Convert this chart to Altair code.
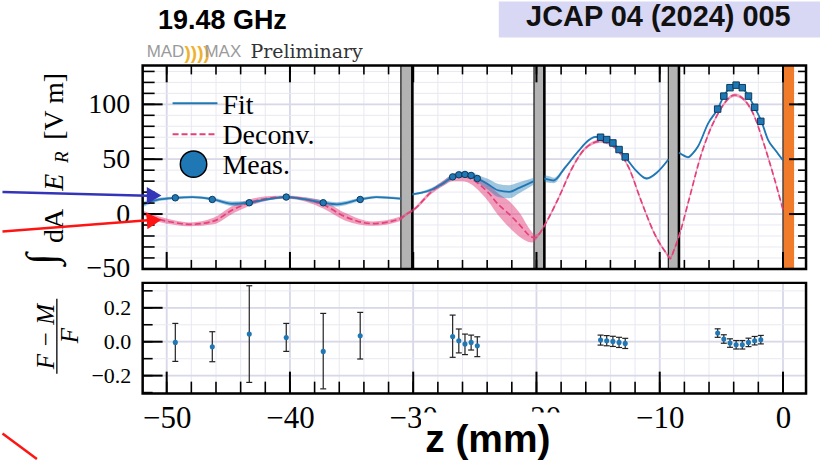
import altair as alt
import pandas as pd

# ------------------------------------------------------------------
# Values
# ------------------------------------------------------------------
# Fit curve (blue), one list per cavity region, with band half-width
fitA_z = [-51.95, -50.6, -49.3, -47.9, -46.2, -44.7, -43.3, -41.9, -40.3, -38.7, -37.3, -36.2, -34.3, -33.0, -31.0]
fitA_v = [8.8, 13.3, 14.8, 15.5, 13.3, 9.4, 10.3, 13.3, 15.5, 13.3, 10.3, 8.8, 13.3, 15.5, 14.0]
fitA_e = [2.5, 1.5, 1.2, 1.2, 1.5, 2.0, 1.5, 1.2, 1.2, 1.5, 2.0, 2.0, 1.5, 1.2, 1.2]

fitB_z = [-30.07, -29.3, -28.5, -27.5, -26.8, -26.0, -25.2, -24.8, -23.9, -23.1, -22.2, -21.4, -20.2]
fitB_v = [17.9, 19.5, 22.4, 28.5, 33.9, 36.3, 35.0, 32.4, 27.0, 21.5, 20.3, 23.9, 30.0]
fitB_e = [1.0, 1.0, 1.5, 2.0, 2.5, 2.5, 3.0, 3.5, 5.0, 6.0, 6.0, 5.0, 3.0]

fitC_z = [-19.36, -18.9, -18.6, -17.7, -16.6, -15.8, -15.2, -14.8, -14.3, -13.8, -13.3, -12.8, -12.0, -11.06, -10.25, -9.3]
fitC_v = [32.4, 31.2, 30.6, 42.1, 57.3, 67.0, 70.3, 70.0, 67.9, 64.8, 58.8, 52.1, 40.6, 32.4, 37.6, 49.7]
fitC_e = [3.0, 3.0, 2.5, 1.5, 1.0, 1.0, 1.0, 1.0, 1.0, 1.0, 1.0, 1.0, 1.0, 1.0, 1.0, 1.0]

fitD_z = [-8.44, -8.0, -7.7, -7.3, -6.9, -6.07, -5.3, -4.8, -4.3, -3.8, -3.3, -2.8, -2.3, -1.75, -1.21, -0.6, 0.0]
fitD_v = [56.0, 53.0, 51.8, 55.5, 61.5, 82.7, 95.7, 107.5, 115.2, 117.8, 115.2, 107.5, 97.3, 84.5, 67.6, 57.9, 49.0]
fitD_e = [1.0] * 17

# Deconvolved curve (pink, dashed), continuous over the whole range
dec_z = [-51.95, -50.6, -49.3, -48.1, -46.2, -44.6, -43.3, -41.9, -40.3, -38.7, -37.3, -35.5, -33.3,
         -31.1, -30.6, -29.9, -28.5, -27.5, -26.8, -26.0, -25.2, -24.8, -23.9, -23.1, -22.2, -21.4,
         -20.4, -20.15, -19.8, -19.3, -18.2, -17.1, -16.0, -14.8, -13.6, -12.5, -11.5, -10.4, -9.4,
         -9.15, -8.85, -8.36, -7.7, -6.6, -5.26, -3.9, -2.56, -1.48, -0.67, 0.0]
dec_v = [1.2, -4.8, -7.9, -9.4, -6.4, 4.2, 10.3, 14.2, 15.5, 13.3, 8.5, -2.5, -8.7,
         -4.5, -0.5, 4.5, 20.5, 28.5, 33.0, 34.0, 31.5, 28.5, 19.4, 8.8, -0.3, -9.4,
         -20.9, -21.8, -18.5, -9.4, 14.8, 42.0, 60.3, 66.4, 60.3, 42.0, 11.8, -18.5, -36.7,
         -40.3, -33.0, -17.3, 10.0, 55.5, 91.8, 108.5, 94.8, 61.5, 31.2, 4.0]
dec_e = [2.0, 2.5, 2.0, 1.8, 3.0, 3.5, 3.0, 2.0, 1.5, 2.0, 3.5, 3.5, 2.0,
         2.0, 1.5, 1.5, 2.0, 2.5, 3.0, 4.0, 5.0, 6.0, 8.0, 10.0, 12.0, 11.0,
         5.0, 3.0, 1.5, 1.5, 1.5, 1.5, 1.5, 1.5, 1.5, 1.5, 1.5, 1.5, 1.5,
         1.5, 1.5, 1.5, 1.5, 1.5, 1.5, 1.5, 1.5, 1.5, 1.5, 1.5]

# Measurements (top panel)
meas_z = [-49.3, -46.3, -43.3, -40.3, -37.3, -34.3,
          -26.8, -26.3, -25.8, -25.3, -24.8,
          -14.8, -14.3, -13.8, -13.3, -12.8,
          -5.3, -4.8, -4.3, -3.8, -3.3, -2.8, -2.3, -1.8]
meas_v = [14.8, 13.3, 10.3, 15.5, 10.3, 13.3,
          33.9, 35.8, 36.1, 35.2, 32.4,
          70.0, 67.9, 64.8, 58.8, 52.1,
          95.7, 107.5, 115.2, 117.5, 115.2, 107.5, 97.3, 84.5]
meas_mk = ["c"] * 11 + ["s"] * 13

# Residuals (F-M)/F with error bar ends (bottom panel)
res_v = [-0.004, -0.03, 0.045, 0.025, -0.057, 0.035,
         0.031, 0.006, -0.014, -0.004, -0.024,
         0.01, 0.006, 0.002, -0.004, -0.01,
         0.051, 0.016, -0.008, -0.018, -0.018, -0.004, 0.006, 0.012]
res_hi = [0.108, 0.059, 0.33, 0.108, 0.167, 0.173,
          0.157, 0.075, 0.045, 0.039, 0.029,
          0.039, 0.036, 0.032, 0.026, 0.02,
          0.076, 0.041, 0.017, 0.007, 0.007, 0.021, 0.031, 0.037]
res_lo = [-0.116, -0.118, -0.24, -0.057, -0.278, -0.102,
          -0.092, -0.066, -0.076, -0.049, -0.088,
          -0.02, -0.024, -0.028, -0.034, -0.04,
          0.026, -0.009, -0.033, -0.043, -0.043, -0.029, -0.019, -0.013]

# Disks (grey) and mirror (orange)
disk_lo = [-31.0, -20.2, -9.3]
disk_hi = [-30.07, -19.36, -8.44]
mirror_lo = [0.0]
mirror_hi = [0.9]

# Tick / grid values
x_minor = list(range(-50, 1, 2))
x_major = [-50, -40, -30, -20, -10, 0]
y1_minor = list(range(-50, 131, 10))
y1_major = [-50, 0, 50, 100]
y2_minor = [-0.3, -0.2, -0.1, 0.0, 0.1, 0.2, 0.3]
y2_major = [-0.2, 0.0, 0.2]

# ------------------------------------------------------------------
W, H1, H2 = 665, 204, 111
XDOM = [-51.95, 1.87]
BLUE = "#1f77b4"
PINK = "#e4407a"
SERIF = "Liberation Serif"
SANS = "Liberation Sans"
GMIN = "#e8e8f2"
GMAJ = "#d8d8e8"

xs = alt.Scale(domain=XDOM, nice=False, zero=False)
ys1 = alt.Scale(domain=[-50, 135.5], nice=False, zero=False)
ys2 = alt.Scale(domain=[-0.306, 0.347], nice=False, zero=False)

ax_y1 = alt.Axis(values=y1_major, title=None, ticks=False, tickSize=0, domain=False, grid=False,
                 labelFont=SERIF, labelFontSize=28, labelColor="black", labelPadding=13)
ax_y2 = alt.Axis(values=y2_major, format=".1f", title=None, ticks=False, tickSize=0, domain=False,
                 grid=False, labelFont=SERIF, labelFontSize=22, labelColor="black", labelPadding=12)
ax_x2 = alt.Axis(values=x_major, title=None, ticks=False, tickSize=0, domain=False, grid=False,
                 labelFont=SERIF, labelFontSize=31, labelColor="black", labelPadding=10,
                 labelFlush=False, labelOverlap=False)


def X1(f="z"):
    return alt.X(f + ":Q", scale=xs, axis=None)


def Y1(f="v"):
    return alt.Y(f + ":Q", scale=ys1, axis=ax_y1)


def X2(f="z"):
    return alt.X(f + ":Q", scale=xs, axis=ax_x2)


def Y2(f="v"):
    return alt.Y(f + ":Q", scale=ys2, axis=ax_y2)


def band_df(name, z, v, e):
    return pd.DataFrame({"z": z, "v": v,
                         "lo": [a - b for a, b in zip(v, e)],
                         "hi": [a + b for a, b in zip(v, e)],
                         "seg": name})


fit_df = pd.concat([band_df("A", fitA_z, fitA_v, fitA_e),
                    band_df("B", fitB_z, fitB_v, fitB_e),
                    band_df("C", fitC_z, fitC_v, fitC_e),
                    band_df("D", fitD_z, fitD_v, fitD_e)], ignore_index=True)
dec_df = band_df("P", dec_z, dec_v, dec_e)
meas_df = pd.DataFrame({"z": meas_z, "v": meas_v, "mk": meas_mk})
res_df = pd.DataFrame({"z": meas_z, "v": res_v, "lo": res_lo, "hi": res_hi})
disk_df = pd.DataFrame({"lo": disk_lo, "hi": disk_hi})
mir_df = pd.DataFrame({"lo": mirror_lo, "hi": mirror_hi})
ONE = pd.DataFrame({"k": [0]})


def vals(lst):
    return pd.DataFrame({"p": lst})


def txt(text, x, y, size, font=SERIF, weight="normal", style="normal", align="left",
        baseline="alphabetic", angle=0, color="black"):
    return alt.Chart(ONE).mark_text(text=text, font=font, fontSize=size, fontWeight=weight,
                                    fontStyle=style, align=align, baseline=baseline,
                                    angle=angle, color=color).encode(x=alt.value(x), y=alt.value(y))


def seg(x1, y1, x2, y2, color, width, dash=None):
    kw = dict(color=color, strokeWidth=width)
    if dash:
        kw["strokeDash"] = dash
    return alt.Chart(ONE).mark_rule(**kw).encode(
        x=alt.value(x1), y=alt.value(y1), x2=alt.value(x2), y2=alt.value(y2))


def vticks(lst, Xf, y0, y1, w):
    return alt.Chart(vals(lst)).mark_rule(color="black", strokeWidth=w).encode(
        x=Xf("p"), y=alt.value(y0), y2=alt.value(y1))


def hticks(lst, Yf, x0, x1, w):
    return alt.Chart(vals(lst)).mark_rule(color="black", strokeWidth=w).encode(
        y=Yf("p"), x=alt.value(x0), x2=alt.value(x1))


# ------------------------------------------------------------------
# Top panel
# ------------------------------------------------------------------
top_layers = [
    # invisible page frame (fixes the overall picture bounds: 821 x 460)
    alt.Chart(ONE).mark_rect(color="white", opacity=0).encode(
        x=alt.value(-142), x2=alt.value(679), y=alt.value(-64), y2=alt.value(396)),
    alt.Chart(vals(x_minor)).mark_rule(color=GMIN, strokeWidth=1).encode(x=X1("p")),
    alt.Chart(vals(x_major)).mark_rule(color=GMAJ, strokeWidth=1.8).encode(x=X1("p")),
    alt.Chart(vals(y1_minor)).mark_rule(color=GMIN, strokeWidth=1).encode(y=Y1("p")),
    alt.Chart(vals(y1_major)).mark_rule(color=GMAJ, strokeWidth=1.8).encode(y=Y1("p")),
    alt.Chart(disk_df).mark_rect(color="#b3b3b3").encode(
        x=X1("lo"), x2="hi:Q", y=alt.value(0), y2=alt.value(H1)),
    alt.Chart(mir_df).mark_rect(color="#ef7b2b").encode(
        x=X1("lo"), x2="hi:Q", y=alt.value(0), y2=alt.value(H1)),
    alt.Chart(disk_df).mark_rule(color="#222222", strokeWidth=1.3).encode(x=X1("lo")),
    alt.Chart(disk_df).mark_rule(color="black", strokeWidth=2.6).encode(x=X1("hi")),
    alt.Chart(mir_df).mark_rule(color="#333333", strokeWidth=1.2).encode(x=X1("lo")),
    alt.Chart(dec_df).mark_area(color=PINK, opacity=0.5, interpolate="monotone").encode(
        x=X1(), y=Y1("lo"), y2="hi:Q"),
    alt.Chart(fit_df).mark_area(color=BLUE, opacity=0.42, interpolate="monotone").encode(
        x=X1(), y=Y1("lo"), y2="hi:Q", detail="seg:N"),
    alt.Chart(dec_df).mark_line(color=PINK, strokeWidth=1.7, strokeDash=[6, 3],
                                interpolate="monotone").encode(x=X1(), y=Y1()),
    alt.Chart(fit_df).mark_line(color=BLUE, strokeWidth=1.8, interpolate="monotone").encode(
        x=X1(), y=Y1(), detail="seg:N"),
    alt.Chart(meas_df).mark_point(filled=True, size=42, color=BLUE, stroke="#0b3a5e",
                                  strokeWidth=1, opacity=1).encode(
        x=X1(), y=Y1(),
        shape=alt.Shape("mk:N", scale=alt.Scale(domain=["c", "s"], range=["circle", "square"]),
                        legend=None)),
    # ticks
    vticks(x_minor, X1, 0, 9, 1.6),
    vticks(x_major, X1, 0, 17, 2),
    vticks(x_minor, X1, H1 - 9, H1, 1.6),
    vticks(x_major, X1, H1 - 17, H1, 2),
    hticks(y1_minor, Y1, 0, 12, 1.6),
    hticks(y1_major, Y1, 0, 20, 2),
    hticks(y1_minor, Y1, W - 8, W, 1.6),
    hticks(y1_major, Y1, W - 17, W, 2),
    # frame
    alt.Chart(ONE).mark_rect(fill="transparent", stroke="black", strokeWidth=2.5).encode(
        x=alt.value(0), x2=alt.value(W), y=alt.value(0), y2=alt.value(H1)),
    # legend
    seg(30, 38, 75, 38, BLUE, 2),
    txt("Fit", 80, 49, 28),
    seg(30, 69, 75, 69, PINK, 2, dash=[6, 3]),
    txt("Deconv.", 80, 79, 28),
    alt.Chart(ONE).mark_point(filled=True, shape="circle", size=700, color=BLUE, stroke="black",
                              strokeWidth=1.5, opacity=1).encode(x=alt.value(51), y=alt.value(99)),
    txt("Meas.", 80, 109, 28),
    # y title (rotated)
    txt("\u222b", -88, 194, 42, align="center", angle=270),
    txt("dA", -80, 161, 28, align="center", angle=270),
    txt("E", -80, 117, 28, style="italic", align="center", angle=270),
    txt("R", -75, 92, 19, style="italic", align="center", angle=270),
    txt("[V m]", -80, 41, 28, align="center", angle=270),
    # header annotations
    txt("19.48 GHz", 80, -36, 27, font=SANS, weight="bold", align="center"),
    alt.Chart(ONE).mark_rect(color="#d8d8f4").encode(
        x=alt.value(357), x2=alt.value(679), y=alt.value(-64), y2=alt.value(-28)),
    txt("JCAP 04 (2024) 005", 517, -40, 29, font=SANS, weight="bold", align="center", color="#111111"),
    txt("MAD", 4, -8, 17, font=SANS, color="#9a9a9a"),
    txt("))))", 42, -6, 19, font=SANS, weight="bold", color="#f0b030"),
    txt("MAX", 62, -8, 17, font=SANS, color="#9a9a9a"),
    txt("Preliminary", 108, -7, 19, font="DejaVu Serif", color="#333333"),
    # arrows on the left
    seg(-140.5, 127, 5, 130.7, "#3434b8", 2.5),
    alt.Chart(ONE).mark_point(filled=True, shape="triangle-right", size=289, color="#3434b8",
                              opacity=1).encode(x=alt.value(11.5), y=alt.value(130.5)),
    seg(-140.5, 166.6, 5, 155.3, "#ff1414", 2.5),
    alt.Chart(ONE).mark_point(filled=True, shape="triangle-right", size=289, color="#ff1414",
                              opacity=1, angle=355.6).encode(x=alt.value(11.5), y=alt.value(155.3)),
]
top = alt.layer(*top_layers).properties(width=W, height=H1)

# ------------------------------------------------------------------
# Bottom panel (residuals)
# ------------------------------------------------------------------
bot_layers = [
    alt.Chart(vals(x_minor)).mark_rule(color=GMIN, strokeWidth=1).encode(x=X2("p")),
    alt.Chart(vals(x_major)).mark_rule(color=GMAJ, strokeWidth=1.8).encode(x=X2("p")),
    alt.Chart(vals(y2_minor)).mark_rule(color=GMIN, strokeWidth=1).encode(y=Y2("p")),
    alt.Chart(vals(y2_major)).mark_rule(color=GMAJ, strokeWidth=1.8).encode(y=Y2("p")),
    alt.Chart(res_df).mark_rule(color="#222222", strokeWidth=1.2).encode(x=X2(), y=Y2("lo"), y2="hi:Q"),
    alt.Chart(res_df).mark_tick(orient="horizontal", size=6, thickness=1.2, color="#222222",
                                opacity=1).encode(x=X2(), y=Y2("hi")),
    alt.Chart(res_df).mark_tick(orient="horizontal", size=6, thickness=1.2, color="#222222",
                                opacity=1).encode(x=X2(), y=Y2("lo")),
    alt.Chart(res_df).mark_circle(size=26, color=BLUE, opacity=1).encode(x=X2(), y=Y2()),
    vticks(x_minor, X2, H2 - 12, H2, 1.6),
    vticks(x_major, X2, H2 - 22, H2, 2),
    hticks(y2_minor, Y2, 0, 10, 1.6),
    hticks(y2_major, Y2, 0, 20, 2),
    alt.Chart(ONE).mark_rect(fill="transparent", stroke="black", strokeWidth=2.5).encode(
        x=alt.value(0), x2=alt.value(W), y=alt.value(0), y2=alt.value(H2)),
    # y title as a fraction
    txt("F \u2212 M", -89, 54, 25, style="italic", align="center", angle=270),
    seg(-86, 16, -86, 91, "black", 1.3),
    txt("F", -65, 53, 25, style="italic", align="center", angle=270),
    # big x label on white patch
    alt.Chart(ONE).mark_rect(color="white").encode(
        x=alt.value(279), x2=alt.value(423), y=alt.value(130), y2=alt.value(178)),
    txt("z (mm)", 346, 170, 39, font=SANS, weight="bold", align="center"),
    seg(-140.5, 151, -106, 176.5, "#ff1414", 2.5),
]
bottom = alt.layer(*bot_layers).properties(width=W, height=H2)

chart = alt.vconcat(top, bottom, spacing=14, bounds="flush").properties(
    padding=0,
).configure_view(strokeWidth=0).configure(background="white")

chart.save("out.html", embed_options={"renderer": "svg", "actions": False})
